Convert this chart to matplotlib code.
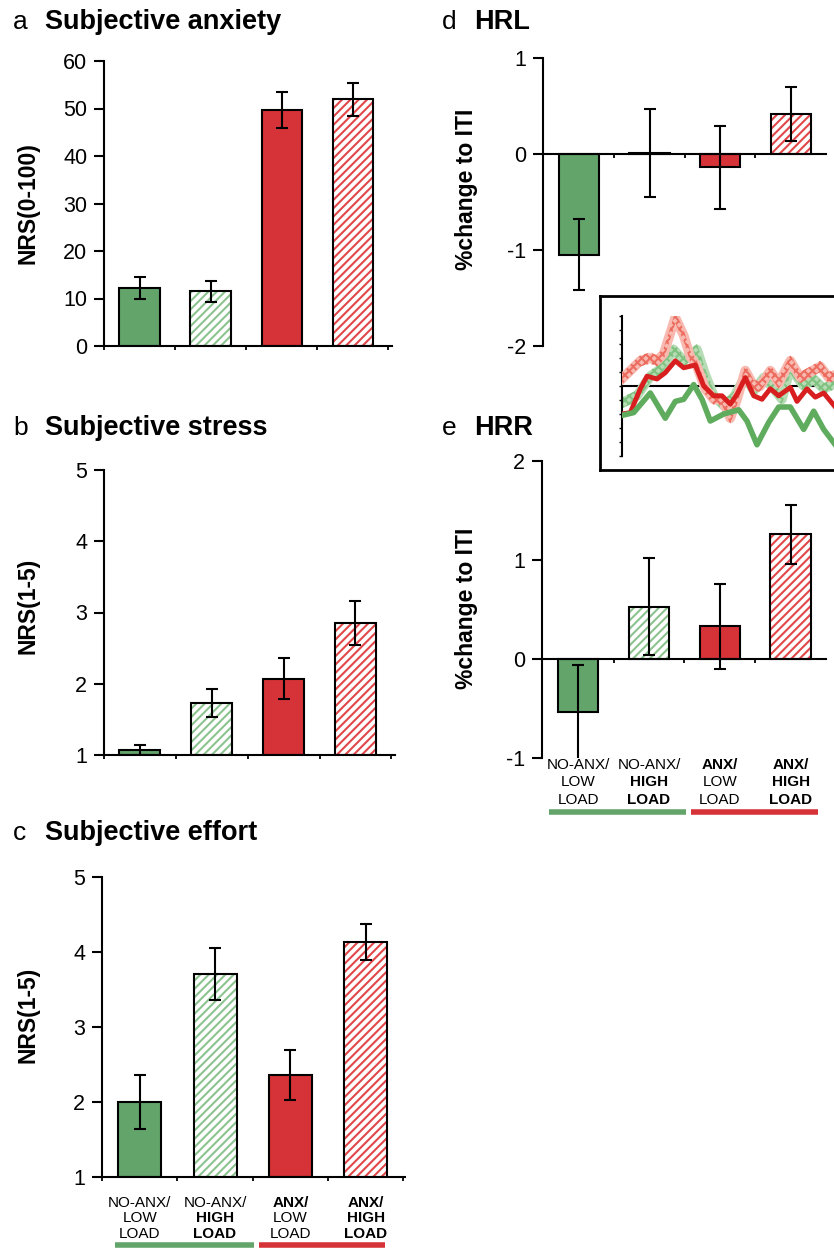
import matplotlib
matplotlib.use("Agg")
import matplotlib.pyplot as plt
import matplotlib.transforms as mtrans
from matplotlib.lines import Line2D

plt.rcParams['font.family'] = ['Liberation Sans', 'DejaVu Sans']
plt.rcParams['axes.unicode_minus'] = False
plt.rcParams['hatch.linewidth'] = 1.5

# ---- data ----
groups = ['NO-ANX/LOW LOAD', 'NO-ANX/HIGH LOAD', 'ANX/LOW LOAD', 'ANX/HIGH LOAD']
anxiety = [12.2, 11.5, 49.7, 51.9]
anxiety_err = [2.4, 2.2, 3.8, 3.4]
stress = [1.07, 1.73, 2.07, 2.85]
stress_err = [0.07, 0.2, 0.29, 0.31]
effort = [2.0, 3.71, 2.36, 4.13]
effort_err = [0.36, 0.35, 0.33, 0.24]
hrl = [-1.05, 0.01, -0.14, 0.42]
hrl_err = [0.37, 0.46, 0.43, 0.28]
hrr = [-0.54, 0.53, 0.33, 1.26]
hrr_err = [0.48, 0.49, 0.43, 0.30]

line1 = ['NO-ANX/', 'NO-ANX/', 'ANX/', 'ANX/']
line1_bold = [False, False, True, True]
line2 = ['LOW', 'HIGH', 'LOW', 'HIGH']
line2_bold = [False, True, False, True]
line3 = ['LOAD', 'LOAD', 'LOAD', 'LOAD']
line3_bold = [False, True, False, True]

# inset time courses (arbitrary time units, % change)
t_red_band = [0, 18.3, 28.3, 35, 41.7, 53.3, 61.7, 68.3, 75, 83.3, 91.7, 100, 108.3, 115, 123.3,
              131.7, 138.3, 148.3, 156.7, 168.3, 178.3, 188.3, 198.3, 206.7, 213.3]
y_red_band = [0.52, 1.8, 2.0, 1.8, 2.3, 4.9, 3.6, 2.1, 1.4, -0.2, -0.95, -0.95, -2.3, -0.95, 1.1,
              0, 0, 1.1, 0.2, 1.8, 0.6, 1.0, 1.4, 0.6, 0.8]
t_green_band = [0, 15, 28.3, 38.3, 51.7, 61.7, 75, 83.3, 91.7, 101.7, 111.7, 123.3, 131.7, 141.7,
                151.7, 160, 168.3, 181.7, 191.7, 201.7, 213.3]
y_green_band = [-1.2, -0.7, 0.7, 1.2, 2.6, 1.8, 2.6, 0.8, -0.7, -1.4, -0.8, 0.7, -0.35, 0.6,
                -0.2, -0.95, 1.3, 0, 0.5, -0.2, 0.2]
t_red = [0, 8.3, 18.3, 25, 35, 43.3, 53.3, 61.7, 73.3, 81.7, 91.7, 100, 108.3, 115, 123.3, 131.7,
         140, 148.3, 156.7, 168.3, 175, 185, 193.3, 201.7, 213.3]
y_red = [-2.0, -1.9, -0.2, 0.7, 0.5, 0.95, 1.8, 1.3, 1.5, 0, -0.7, -0.7, -1.3, -0.6, 0.6, -0.7,
         -0.95, -0.2, -0.7, -0.1, -1.1, -0.2, -0.8, -0.5, -1.5]
t_green = [0, 11.7, 28.3, 43.3, 53.3, 61.7, 71.7, 80, 88.3, 101.7, 116.7, 125, 135, 146.7, 156.7,
           168.3, 181.7, 191.7, 201.7, 213.3]
y_green = [-2.1, -1.9, -0.5, -2.3, -1.1, -0.95, 0.1, -0.95, -2.5, -2.0, -1.7, -2.5, -4.2, -2.6,
           -1.5, -1.5, -3.1, -1.8, -3.1, -4.2]

GREEN = '#63a46a'
RED = '#d63338'
GREEN_H = '#8cc38f'
RED_H = '#e2474b'
fills = [GREEN, None, RED, None]
hatches = [None, GREEN_H, None, RED_H]

W, H = 834, 1248
fig = plt.figure(figsize=(W / 100, H / 100), dpi=100)


def add_ax(l, t, r, b):
    return fig.add_axes([l / W, 1 - b / H, (r - l) / W, (b - t) / H])


def style(ax, ylim, yticks, xlim, zero=False):
    ax.set_xlim(xlim)
    ax.set_ylim(ylim)
    for s in ['top', 'right']:
        ax.spines[s].set_visible(False)
    for s in ['left', 'bottom']:
        ax.spines[s].set_linewidth(1.5)
    ax.set_yticks(yticks)
    ax.tick_params(axis='y', labelsize=15.5, length=7, width=1.5, pad=5)
    if zero:
        ax.spines['bottom'].set_position(('data', 0))
        ax.set_xticks([0.5, 1.5, 2.5])
    else:
        ax.set_xticks([-0.5, 0.5, 1.5, 2.5, 3.5])
    ax.tick_params(axis='x', length=3, width=1.3, labelbottom=False)


def draw_bars(ax, vals, errs, base):
    x = list(range(len(vals)))
    for i, v in enumerate(vals):
        if fills[i]:
            ax.bar(x[i], v - base, 0.57, bottom=base, color=fills[i], linewidth=0, zorder=2)
        else:
            ax.bar(x[i], v - base, 0.57, bottom=base, color='white', edgecolor=hatches[i],
                   hatch='////', linewidth=0, zorder=2)
        ax.bar(x[i], v - base, 0.57, bottom=base, fill=False, edgecolor='black',
               linewidth=1.5, zorder=3)
    ax.errorbar(x, vals, yerr=errs, fmt='none', ecolor='black', elinewidth=1.5,
                capsize=4, capthick=1.5, zorder=4)


def title(xp, yp, letter, name):
    fig.text(xp / W, 1 - yp / H, letter, fontsize=19, va='center')
    fig.text((xp + 32) / W, 1 - yp / H, name, fontsize=19.5, fontweight='bold', va='center')


def ylab(xp, yp, txt):
    fig.text(xp / W, 1 - yp / H, txt, fontsize=16.5, fontweight='bold', rotation=90,
             ha='center', va='center')


def xlabels(ax, y0, dy, spans):
    tr = mtrans.blended_transform_factory(ax.transData, fig.transFigure)
    for i in range(4):
        for k, (txt, bold) in enumerate([(line1[i], line1_bold[i]), (line2[i], line2_bold[i]),
                                         (line3[i], line3_bold[i])]):
            ax.text(i, 1 - (y0 + k * dy) / H, txt, transform=tr, ha='center', va='center',
                    fontsize=11, fontweight='bold' if bold else 'normal', clip_on=False)
    for (a, b), c, yy in spans:
        fig.add_artist(Line2D([a, b], [1 - yy / H] * 2, transform=tr, color=c, lw=4,
                              solid_capstyle='butt'))


# a
ax_a = add_ax(104, 61, 392, 346)
style(ax_a, (0, 60), range(0, 61, 10), (-0.47, 3.55))
draw_bars(ax_a, anxiety, anxiety_err, 0)
title(13, 22, 'a', 'Subjective anxiety')
ylab(28, 203, 'NRS(0-100)')

# b
ax_b = add_ax(104, 470, 395, 755)
style(ax_b, (1, 5), range(1, 6), (-0.47, 3.55))
draw_bars(ax_b, stress, stress_err, 1)
title(13, 428, 'b', 'Subjective stress')
ylab(28, 606, 'NRS(1-5)')

# c
ax_c = add_ax(102, 877, 405, 1177)
style(ax_c, (1, 5), range(1, 6), (-0.5, 3.52))
draw_bars(ax_c, effort, effort_err, 1)
title(13, 833, 'c', 'Subjective effort')
ylab(28, 1015, 'NRS(1-5)')
xlabels(ax_c, 1203, 15.5, [((-0.33, 1.51), GREEN, 1245), ((1.58, 3.25), RED, 1245)])

# d
ax_d = add_ax(543, 58, 826, 346)
style(ax_d, (-2, 1), [-2, -1, 0, 1], (-0.51, 3.5), zero=True)
draw_bars(ax_d, hrl, hrl_err, 0)
title(442, 22, 'd', 'HRL')
ylab(466, 189, '%change to ITI')

# e
ax_e = add_ax(542, 461, 826, 758)
style(ax_e, (-1, 2), [-1, 0, 1, 2], (-0.51, 3.5), zero=True)
draw_bars(ax_e, hrr, hrr_err, 0)
title(442, 428, 'e', 'HRR')
ylab(466, 608, '%change to ITI')
xlabels(ax_e, 765, 17.5, [((-0.41, 1.53), GREEN, 812), ((1.60, 3.39), RED, 812)])

# inset
box = add_ax(600, 296, 880, 470)
box.set_xticks([])
box.set_yticks([])
for s in box.spines.values():
    s.set_linewidth(2)
box.set_zorder(5)
ins = add_ax(622, 316, 862, 456)
ins.set_zorder(6)
ins.patch.set_alpha(0)
ins.set_xlim(0, 240)
ins.set_ylim(-5, 5)
for s in ['top', 'right', 'bottom']:
    ins.spines[s].set_visible(False)
ins.spines['left'].set_linewidth(1.5)
ins.set_xticks([])
ins.set_yticks(range(-5, 6))
ins.tick_params(axis='y', length=2.5, width=1, labelleft=False)
ins.axhline(0, color='black', lw=1.5, zorder=1)
ins.plot(t_green_band, y_green_band, color='#b5dcb5', lw=7, zorder=2, solid_joinstyle='round')
ins.fill_between(t_green_band, [v - 0.4 for v in y_green_band], [v + 0.4 for v in y_green_band],
                 facecolor='none', edgecolor='#7fc27f', hatch='xxxx', linewidth=0, zorder=2.5)
ins.plot(t_red_band, y_red_band, color='#f7b9b0', lw=7, zorder=3, solid_joinstyle='round')
ins.fill_between(t_red_band, [v - 0.4 for v in y_red_band], [v + 0.4 for v in y_red_band],
                 facecolor='none', edgecolor='#ec6d60', hatch='xxxx', linewidth=0, zorder=3.5)
ins.plot(t_red, y_red, color='#d81e1e', lw=3.5, zorder=4)
ins.plot(t_green, y_green, color='#5fac5f', lw=4, zorder=5)

fig.savefig('out.png', dpi=100)
